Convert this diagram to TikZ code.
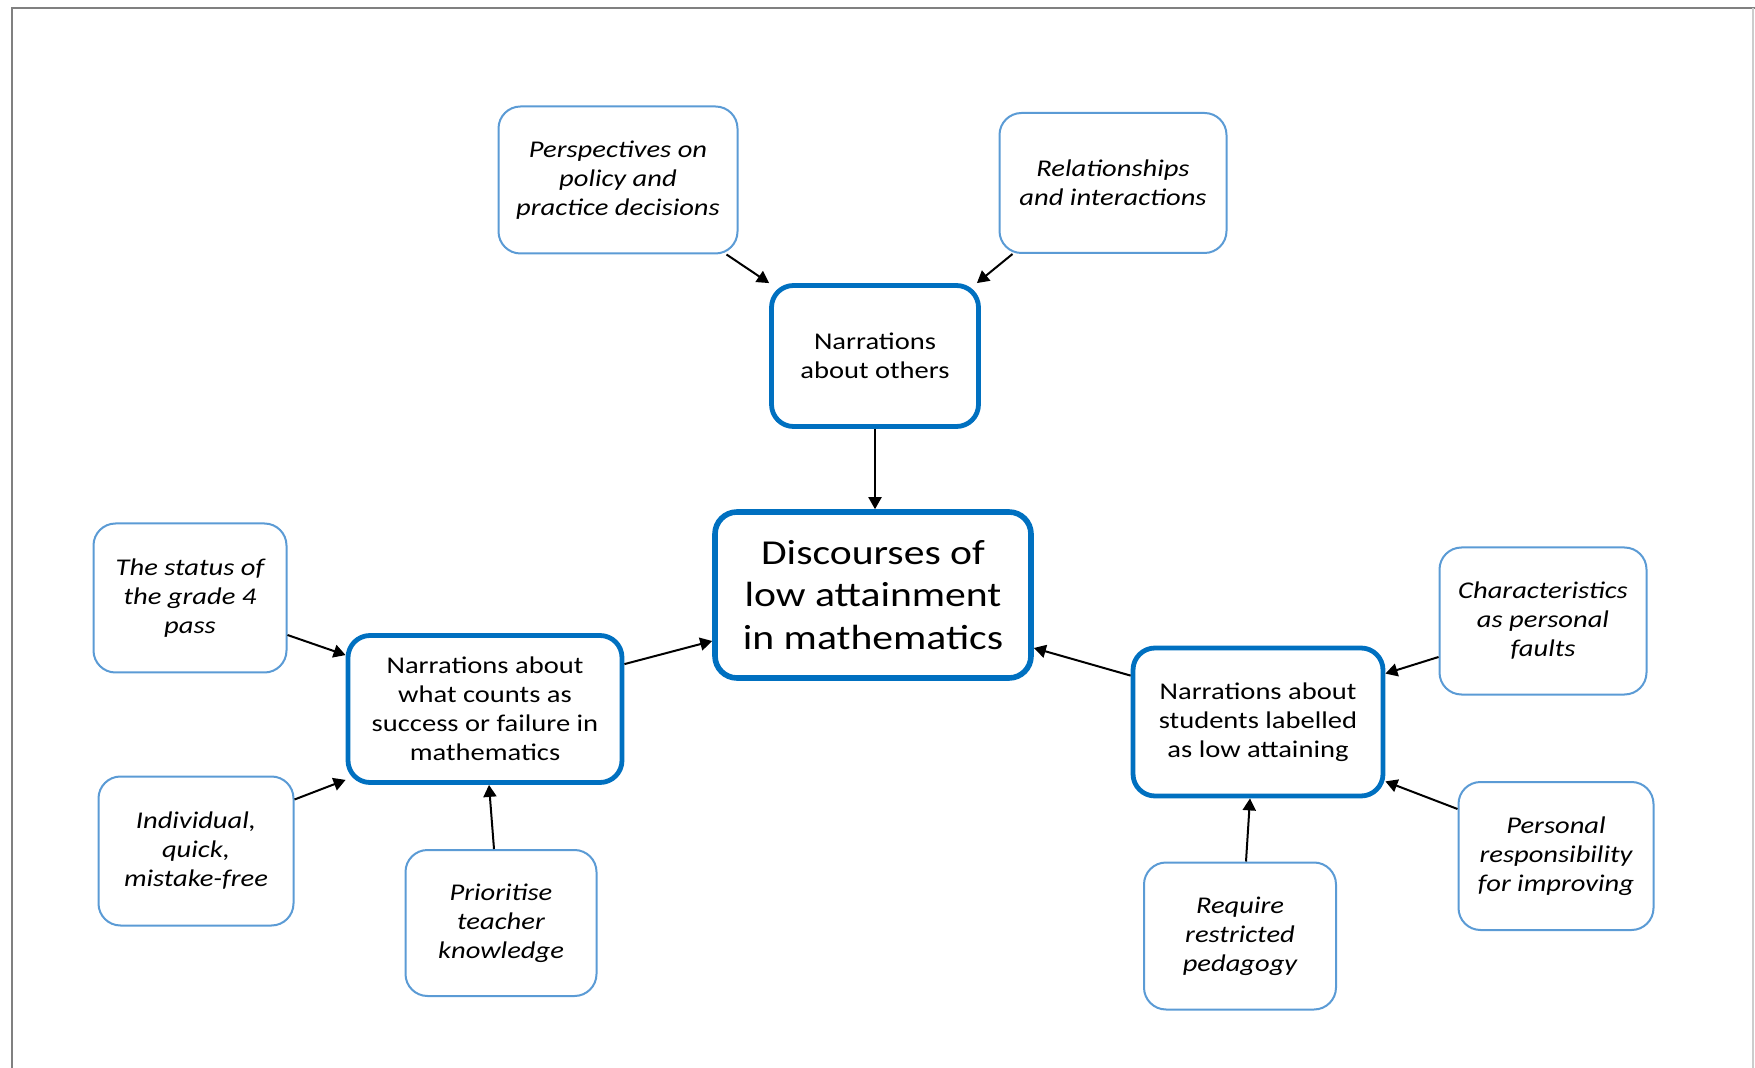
\documentclass[tikz,border=0pt]{standalone}
\usepackage{fontspec}
\setmainfont{Carlito}[FakeStretch=1.19]
\usetikzlibrary{arrows.meta}
\definecolor{lightblue}{RGB}{91,155,213}
\definecolor{darkblue}{RGB}{0,112,192}
\definecolor{framegray}{RGB}{128,128,128}
\begin{document}
\begin{tikzpicture}[x=0.5pt,y=-0.5pt,
  base/.style={rectangle,rounded corners=11pt,align=center,fill=white,inner sep=2pt},
  sub/.style={base,draw=lightblue,line width=1pt,font=\fontsize{12}{14.5}\selectfont\itshape},
  mid/.style={base,draw=darkblue,line width=2.4pt,font=\fontsize{12}{14.5}\selectfont},
  core/.style={base,draw=darkblue,line width=2.8pt,font=\fontsize{17.5}{21.3}\selectfont},
  link/.style={-{Triangle[length=6pt,width=6.5pt]},line width=1pt,black}]
\useasboundingbox (0,0) rectangle (1755,1068);
\clip (0,0) rectangle (1755,1068);
% page frame
\draw[framegray,line width=1.4pt] (12,1080) -- (12,8) -- (1756,8);
\draw[black!20,line width=0.8pt] (1753,8) -- (1753,1080);

% central node
\node[core,minimum width=158pt,minimum height=83pt] (disc) at (873,595) {Discourses of\\low attainment\\in mathematics};

% three narration nodes
\node[mid,minimum width=103.5pt,minimum height=70.5pt] (nao) at (875,356) {Narrations\\about others};
\node[mid,minimum width=137pt,minimum height=73.5pt] (ns) at (485,709) {Narrations about\\what counts as\\success or failure in\\mathematics};
\node[mid,minimum width=125pt,minimum height=74pt] (nst) at (1258,722) {Narrations about\\students labelled\\as low attaining};

% subthemes
\node[sub,minimum width=119.5pt,minimum height=73.5pt] (persp) at (618,180) {Perspectives on\\policy and\\practice decisions};
\node[sub,minimum width=113.5pt,minimum height=70pt] (rel) at (1113,183) {Relationships\\and interactions};
\node[sub,minimum width=96.5pt,minimum height=74.5pt] (status) at (190,598) {The status of\\the grade 4\\pass};
\node[sub,minimum width=97.5pt,minimum height=74.5pt] (indiv) at (196,851) {Individual,\\quick,\\mistake-free};
\node[sub,minimum width=95.5pt,minimum height=73pt] (prio) at (501,923) {Prioritise\\teacher\\knowledge};
\node[sub,minimum width=103.5pt,minimum height=73.5pt] (char) at (1543,621) {Characteristics\\as personal\\faults};
\node[sub,minimum width=97.5pt,minimum height=74pt] (pers) at (1556,856) {Personal\\responsibility\\for improving};
\node[sub,minimum width=96pt,minimum height=73.5pt] (req) at (1240,936) {Require\\restricted\\pedagogy};

% connectors
\draw[link] ([shift={(-12,0)}]persp.south east) -- (nao.north west);
\draw[link] ([shift={(14,0)}]rel.south west) -- ([shift={(-4,0)}]nao.north east);
\draw[link] (nao.south) -- (nao.south |- disc.north);
\draw[link] ([shift={(0,37)}]status.east) -- ([shift={(0,22)}]ns.north west);
\draw[link] ([shift={(0,24)}]indiv.north east) -- ([shift={(0,-5)}]ns.south west);
\draw[link] ([shift={(-7,0)}]prio.north) -- ([shift={(4,0)}]ns.south);
\draw[link] ([shift={(0,31)}]ns.north east) -- ([shift={(0,46)}]disc.west);
\draw[link] ([shift={(0,30)}]nst.north west) -- ([shift={(0,53)}]disc.east);
\draw[link] ([shift={(0,36)}]char.west) -- ([shift={(0,28)}]nst.north east);
\draw[link] ([shift={(0,28)}]pers.north west) -- ([shift={(0,-17)}]nst.south east);
\draw[link] ([shift={(6,0)}]req.north) -- ([shift={(-8,0)}]nst.south);
\end{tikzpicture}
\end{document}
